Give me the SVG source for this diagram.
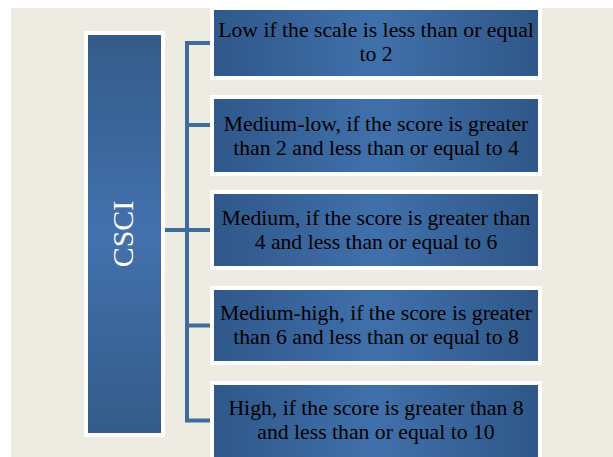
<svg xmlns="http://www.w3.org/2000/svg" width="613" height="457" viewBox="0 0 613 457">
<defs>
<linearGradient id="gBox" x1="0" y1="0" x2="1" y2="0">
<stop offset="0" stop-color="#2F578A"/>
<stop offset="0.5" stop-color="#4070AB"/>
<stop offset="1" stop-color="#2F5788"/>
</linearGradient>
<linearGradient id="gMain" x1="0" y1="0" x2="0" y2="1">
<stop offset="0" stop-color="#345B89"/>
<stop offset="0.5" stop-color="#4371AD"/>
<stop offset="1" stop-color="#345B89"/>
</linearGradient>
<style>
.box{fill:url(#gBox);stroke:#FFFFFF;stroke-width:4}
.main{fill:url(#gMain);stroke:#FFFFFF;stroke-width:4}
.t{font-family:"Liberation Serif","Times New Roman",serif;font-size:21.7px;fill:#000000;text-anchor:middle}
.ct{font-family:"Liberation Serif","Times New Roman",serif;font-size:30px;fill:#FFFFFF;text-anchor:middle}
.c{fill:none;stroke:#3F6B9F;stroke-width:4}
</style>
</defs>
<rect x="0" y="0" width="613" height="457" fill="#FFFFFF"/>
<rect x="11" y="8" width="602" height="449" fill="#EEECE2"/>
<g id="connectors">
<path class="c" d="M187 43 V420.5"/>
<path class="c" d="M185 43 H212"/>
<path class="c" d="M187 125 H212"/>
<path class="c" d="M164 230 H212"/>
<path class="c" d="M187 325.5 H212"/>
<path class="c" d="M185 420.5 H212"/>
</g>
<g id="csci">
<rect class="main" x="86" y="33" width="77" height="402"/>
<text class="ct" transform="translate(133,234) rotate(-90)">CSCI</text>
</g>
<g id="low">
<rect class="box" x="212" y="8" width="328" height="70"/>
<text class="t" x="376" y="37">Low if the scale is less than or equal</text>
<text class="t" x="376" y="61">to 2</text>
</g>
<g id="medium-low">
<rect class="box" x="212" y="97" width="328" height="77"/>
<text class="t" x="376" y="131">Medium-low, if the score is greater</text>
<text class="t" x="376" y="155">than 2 and less than or equal to 4</text>
</g>
<g id="medium">
<rect class="box" x="212" y="192" width="328" height="76"/>
<text class="t" x="376" y="225">Medium, if the score is greater than</text>
<text class="t" x="376" y="249">4 and less than or equal to 6</text>
</g>
<g id="medium-high">
<rect class="box" x="212" y="288" width="328" height="75"/>
<text class="t" x="376" y="320">Medium-high, if the score is greater</text>
<text class="t" x="376" y="344">than 6 and less than or equal to 8</text>
</g>
<g id="high">
<rect class="box" x="212" y="383" width="328" height="80"/>
<text class="t" x="376" y="415">High, if the score is greater than 8</text>
<text class="t" x="376" y="439">and less than or equal to 10</text>
</g>
</svg>
